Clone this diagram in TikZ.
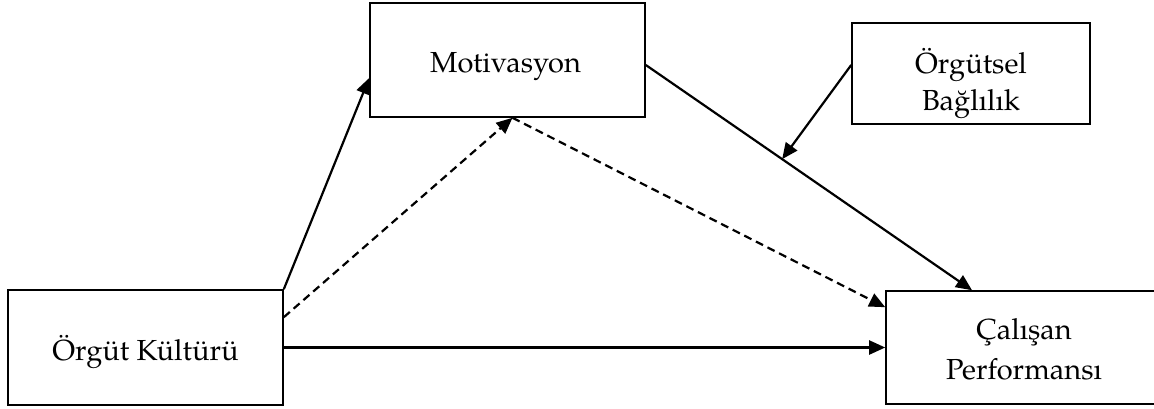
\documentclass[tikz,border=0pt]{standalone}
\usepackage{fontspec}
\setmainfont{TeX Gyre Pagella}
\usetikzlibrary{arrows.meta,calc}
\tikzset{
  box/.style={draw,line width=0.8pt,inner sep=0pt},
  lbl/.style={anchor=base,inner sep=0pt,font=\fontsize{14.5}{17}\selectfont},
  conn/.style={line width=1.1pt,-{Triangle[length=8pt,width=7pt]}},
  dsh/.style={conn,dash pattern=on 4pt off 2.5pt}
}
\begin{document}
\begin{tikzpicture}[x=0.5pt,y=-0.5pt]
\useasboundingbox (0,0) rectangle (1154,408);
\node[box,minimum width=137.5pt,minimum height=57.5pt] (ok) at (145.5,347.5) {};
\node[box,minimum width=137.5pt,minimum height=57pt] (mot) at (507.5,60) {};
\node[box,minimum width=119pt,minimum height=50.5pt] (ob) at (971,73.5) {};
\node[box,minimum width=138pt,minimum height=56.5pt] (cp) at (1024,347.5) {};
\node[lbl] (okt) at (145.5,360) {Örgüt Kültürü};
\node[lbl] (mott) at (505.5,72) {Motivasyon};
\node[lbl] (obt1) at (971,73) {Örgütsel};
\node[lbl] (obt2) at (971,110) {Bağlılık};
\node[lbl] (cpt1) at (1024,339) {Çalışan};
\node[lbl] (cpt2) at (1024,379) {Performansı};
\coordinate (ms) at ([yshift=-2.5pt]mot.east);
\coordinate (ce) at ([xshift=-26pt]cp.north);
\coordinate (mid) at ($(ms)!0.418!(ce)$);
\draw[conn] (ok.north east) -- ([yshift=-9pt]mot.west);
\draw[dsh] ([yshift=-14pt]ok.north east) -- ([xshift=2.5pt]mot.south);
\draw[dsh] ([xshift=2.5pt]mot.south) -- ([yshift=-8.5pt]cp.north west);
\draw[conn] (ms) -- (ce);
\draw[conn] (ok.east) -- (cp.west);
\draw[conn] ([yshift=4.25pt]ob.west) -- (mid);
\end{tikzpicture}
\end{document}
